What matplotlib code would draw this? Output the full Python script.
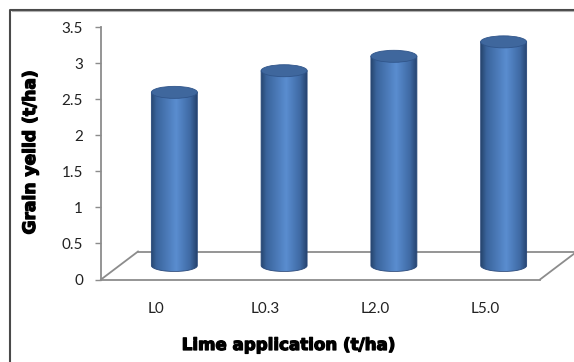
import numpy as np
import matplotlib
matplotlib.use("Agg")
import matplotlib.pyplot as plt
from matplotlib.patches import Ellipse, PathPatch
from matplotlib.path import Path
from matplotlib.colors import LinearSegmentedColormap
from matplotlib.lines import Line2D
import matplotlib.patheffects as pe

# ---- data ----
categories = ["L0", "L0.3", "L2.0", "L5.0"]
yield_values = [2.4, 2.7, 2.9, 3.1]
y_ticks = [0, 0.5, 1, 1.5, 2, 2.5, 3, 3.5]
y_tick_labels = ["0", "0.5", "1", "1.5", "2", "2.5", "3", "3.5"]
x_title = "Lime application (t/ha)"
y_title = "Grain yeild (t/ha)"

W, H = 574, 362
fig = plt.figure(figsize=(W / 100, H / 100), dpi=100)
ax_l, ax_r, ax_b, ax_t = 101, 540, 279.5, 27
ax = fig.add_axes([ax_l / W, (H - ax_b) / H, (ax_r - ax_l) / W, (ax_b - ax_t) / H])
ax.set_xlim(-0.5, len(categories) - 0.5)
ax.set_ylim(0, 3.5)

px_x = (ax_r - ax_l) / len(categories)
px_y = (ax_b - ax_t) / 3.5
dx = 37 / px_x
dy = 28 / px_y
bw = 46 / px_x
eh = 12 / px_y

grey = "#8c8c8c"
# floor outline
x0, x1 = -0.5, len(categories) - 0.5
ax.plot([x0, x0 + dx], [0, dy], color=grey, lw=1.3, zorder=1, clip_on=False)
ax.plot([x0 + dx, x1 + dx], [dy, dy], color=grey, lw=1.3, zorder=1, clip_on=False)
ax.plot([x1, x1 + dx], [0, dy], color=grey, lw=1.3, zorder=1, clip_on=False)

cmap = LinearSegmentedColormap.from_list(
    "cyl",
    [(0.0, "#27466f"), (0.12, "#3a649c"), (0.55, "#5a8dd0"),
     (0.85, "#3f6aa4"), (1.0, "#264470")])
grad = np.linspace(0, 1, 256)[np.newaxis, :]

for i, v in enumerate(yield_values):
    cx = i + dx / 2
    base = dy / 2
    top = v + dy / 2
    t = np.linspace(np.pi, 2 * np.pi, 60)
    ex = cx + bw / 2 * np.cos(t)
    ey = base + eh / 2 * np.sin(t)
    verts = [(cx - bw / 2, top)] + list(zip(ex, ey)) + [(cx + bw / 2, top), (cx - bw / 2, top)]
    codes = [Path.MOVETO] + [Path.LINETO] * (len(verts) - 2) + [Path.CLOSEPOLY]
    path = Path(verts, codes)
    patch = PathPatch(path, facecolor="none", edgecolor="#28487a", lw=0.6, zorder=3)
    ax.add_patch(patch)
    im = ax.imshow(grad, extent=(cx - bw / 2, cx + bw / 2, base - eh / 2, top),
                   aspect="auto", cmap=cmap, zorder=2, interpolation="bilinear")
    im.set_clip_path(patch)
    ax.add_patch(Ellipse((cx, top), bw, eh, facecolor="#3f679d",
                         edgecolor="#30558a", lw=0.6, zorder=4))

ax.set_xlim(-0.5, len(categories) - 0.5)
ax.set_ylim(0, 3.5)

for s in ["top", "right"]:
    ax.spines[s].set_visible(False)
for s in ["left", "bottom"]:
    ax.spines[s].set_color(grey)
    ax.spines[s].set_linewidth(1.3)

ax.set_yticks(y_ticks)
ax.set_yticklabels(y_tick_labels, family="Lato", fontsize=11, color="#222222")
ax.tick_params(axis="y", direction="out", length=4, width=1, color=grey, pad=9)
ax.set_xticks(range(len(categories)))
ax.set_xticklabels(categories, family="Lato", fontsize=11, color="#222222")
ax.tick_params(axis="x", length=0, pad=16)

heavy = [pe.withStroke(linewidth=0.9, foreground="black")]
fig.text(288 / W, 1 - 345 / H, x_title, ha="center", va="center",
         family="DejaVu Sans", fontweight="bold", fontsize=12, color="black",
         path_effects=heavy)
fig.text(30 / W, 1 - 152 / H, y_title, ha="center", va="center", rotation=90,
         family="DejaVu Sans", fontweight="bold", fontsize=12.3, color="black",
         path_effects=heavy)

# chart border
fig.add_artist(Line2D([10 / W, 10 / W, 1], [0, 1 - 9.5 / H, 1 - 9.5 / H],
                      transform=fig.transFigure, color="#4a4a4a", lw=1.5))
fig.add_artist(Line2D([11.5 / W, 1], [1 - 11 / H, 1 - 11 / H],
                      transform=fig.transFigure, color="#b0b0b0", lw=0.8))

fig.savefig("out.png", dpi=100)
